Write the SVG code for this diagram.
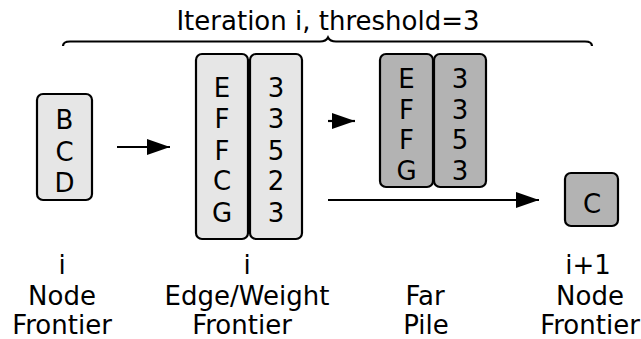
<svg xmlns="http://www.w3.org/2000/svg" width="641" height="339" viewBox="0 0 641 339">
  <style>
    text { font-family: "DejaVu Sans", Verdana, sans-serif; fill: #000; text-anchor: middle; }
    .cell { font-size: 26px; }
    .label { font-size: 26px; }
    .title { font-size: 26px; }
    .box { stroke: #000; stroke-width: 2.2; }
    .light { fill: #e6e6e6; }
    .dark { fill: #b3b3b3; }
    .conn { stroke: #000; stroke-width: 2.2; fill: none; }
  </style>
  <defs>
    <marker id="head" markerWidth="23" markerHeight="16" refX="23" refY="8" orient="auto" markerUnits="userSpaceOnUse">
      <path d="M0,0 L23,8 L0,16 Z" fill="#000"/>
    </marker>
  </defs>

  <!-- heading with brace spanning one iteration -->
  <g id="iteration">
    <text class="title" x="328" y="30">Iteration i, threshold=3</text>
    <path class="conn" d="M63,46 Q63,41.5 70,41.5 L320,41.5 Q326,41.5 328,37.5 Q330,41.5 336,41.5 L585,41.5 Q592,41.5 592,46"/>
  </g>

  <!-- node frontier i -->
  <g id="node-frontier-i">
    <rect class="box light" x="37" y="94" width="55" height="106" rx="6"/>
    <text class="cell" x="64.5" y="129">B</text>
    <text class="cell" x="64.5" y="160.5">C</text>
    <text class="cell" x="64.5" y="191.5">D</text>
  </g>

  <!-- edge / weight frontier -->
  <g id="edge-weight-frontier">
    <rect class="box light" x="196" y="54" width="52" height="185" rx="6"/>
    <rect class="box light" x="250" y="54" width="52" height="185" rx="6"/>
    <text class="cell" x="222" y="97">E</text>
    <text class="cell" x="222" y="128">F</text>
    <text class="cell" x="222" y="159.5">F</text>
    <text class="cell" x="222" y="190">C</text>
    <text class="cell" x="222" y="221.5">G</text>
    <text class="cell" x="276" y="97">3</text>
    <text class="cell" x="276" y="128">3</text>
    <text class="cell" x="276" y="159.5">5</text>
    <text class="cell" x="276" y="190">2</text>
    <text class="cell" x="276" y="221.5">3</text>
  </g>

  <!-- far pile -->
  <g id="far-pile">
    <rect class="box dark" x="380" y="54" width="53" height="133" rx="6"/>
    <rect class="box dark" x="434" y="54" width="52" height="133" rx="6"/>
    <text class="cell" x="406.5" y="88">E</text>
    <text class="cell" x="406.5" y="118.5">F</text>
    <text class="cell" x="406.5" y="149">F</text>
    <text class="cell" x="406.5" y="179.5">G</text>
    <text class="cell" x="460" y="88">3</text>
    <text class="cell" x="460" y="118.5">3</text>
    <text class="cell" x="460" y="149">5</text>
    <text class="cell" x="460" y="179.5">3</text>
  </g>

  <!-- node frontier i+1 -->
  <g id="node-frontier-next">
    <rect class="box dark" x="565" y="173" width="53" height="53" rx="6"/>
    <text class="cell" x="592" y="212.5">C</text>
  </g>

  <!-- connectors -->
  <g id="connectors">
    <line class="conn" x1="117" y1="147" x2="170" y2="147" marker-end="url(#head)"/>
    <line class="conn" x1="328" y1="121" x2="355" y2="121" marker-end="url(#head)"/>
    <line class="conn" x1="328" y1="200" x2="539" y2="200" marker-end="url(#head)"/>
  </g>

  <!-- column captions -->
  <g id="captions">
    <text class="label" x="62" y="274">i</text>
    <text class="label" x="62" y="305">Node</text>
    <text class="label" x="62" y="334">Frontier</text>
    <text class="label" x="247" y="274">i</text>
    <text class="label" x="247" y="305">Edge/Weight</text>
    <text class="label" x="242" y="334">Frontier</text>
    <text class="label" x="425" y="305">Far</text>
    <text class="label" x="426" y="334">Pile</text>
    <text class="label" x="588" y="274">i+1</text>
    <text class="label" x="590" y="305">Node</text>
    <text class="label" x="590" y="334">Frontier</text>
  </g>
</svg>
